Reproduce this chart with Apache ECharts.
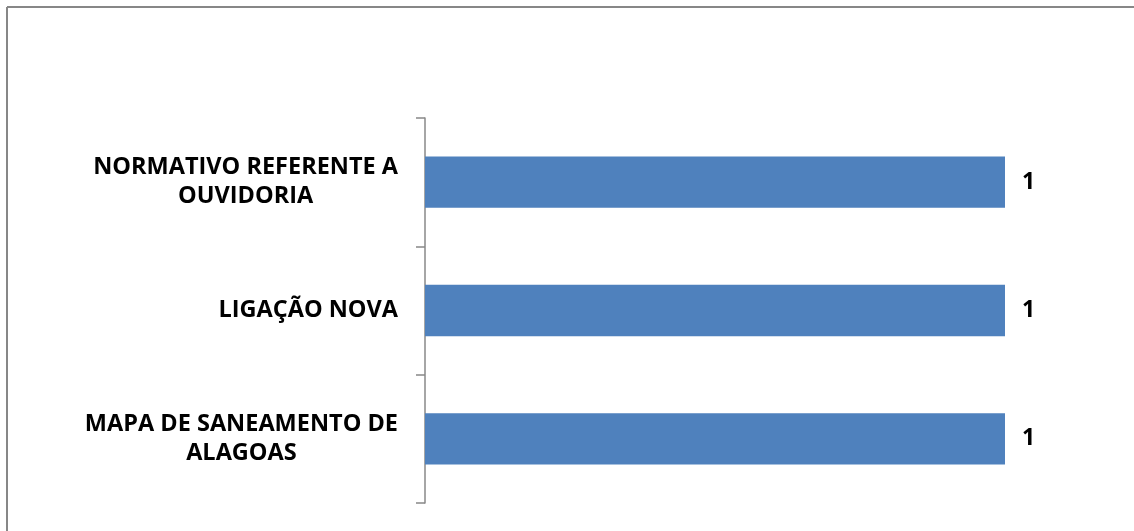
<!DOCTYPE html>
<html>
<head>
<meta charset="utf-8">
<script src="https://cdn.jsdelivr.net/npm/echarts@6/dist/echarts.min.js"></script>
<style>
  html, body { margin: 0; padding: 0; background: #fff; }
  #chart { width: 1134px; height: 531px; }
</style>
</head>
<body>
<div id="chart"></div>
<script>
const categories = ['MAPA DE SANEAMENTO DE\nALAGOAS', 'LIGAÇÃO NOVA', 'NORMATIVO REFERENTE A\nOUVIDORIA'];
const values = [1, 1, 1];

const chart = echarts.init(document.getElementById('chart'));
const font = '"Open Sans", sans-serif';
chart.setOption({
  animation: false,
  backgroundColor: '#fff',
  graphic: [
    { type: 'line', shape: { x1: 7, y1: 7, x2: 1134, y2: 7 }, style: { stroke: '#878787', lineWidth: 2 } },
    { type: 'line', shape: { x1: 7, y1: 7, x2: 7, y2: 531 }, style: { stroke: '#878787', lineWidth: 2 } }
  ],
  grid: { left: 425, right: 129, top: 118, bottom: 28, containLabel: false },
  xAxis: { type: 'value', min: 0, max: 1, show: false },
  yAxis: {
    type: 'category',
    data: categories,
    axisLine: { show: true, lineStyle: { color: '#888', width: 1.5 } },
    axisTick: { show: true, length: 9, lineStyle: { color: '#888', width: 1.5 } },
    splitLine: { show: false },
    axisLabel: {
      margin: 27,
      formatter: function (v) {
        return v.split('\n').map(function (l) { return '{c|' + l + '}'; }).join('\n');
      },
      rich: {
        c: { align: 'center', fontFamily: font, fontWeight: 'bold', fontSize: 23.5, color: '#000', lineHeight: 29 }
      }
    }
  },
  series: [{
    type: 'bar',
    data: values,
    barCategoryGap: '60%',
    itemStyle: { color: '#4F81BD' },
    label: {
      show: true,
      position: 'right',
      distance: 17,
      fontFamily: font,
      fontWeight: 'bold',
      fontSize: 23,
      color: '#000'
    }
  }]
});
</script>
</body>
</html>
